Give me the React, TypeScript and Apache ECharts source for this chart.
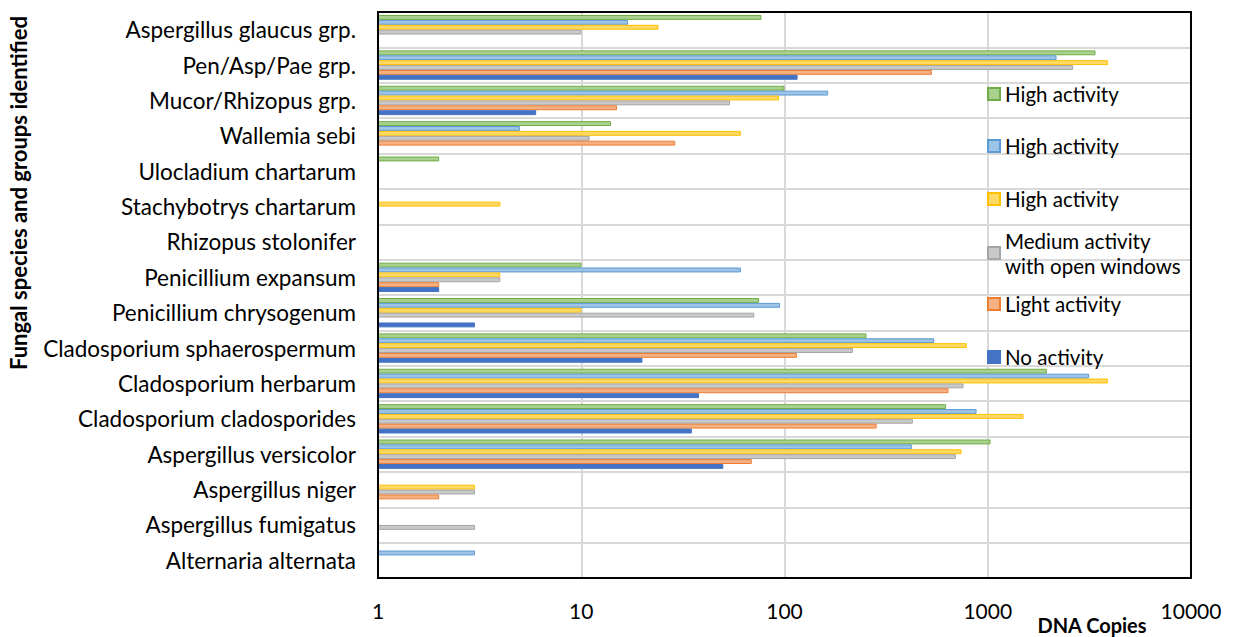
import React, { useEffect, useRef } from "react";
import * as echarts from "echarts";

// Categories listed from bottom to top of the chart
const categories = [
  "Alternaria alternata",
  "Aspergillus fumigatus",
  "Aspergillus niger",
  "Aspergillus versicolor",
  "Cladosporium cladosporides",
  "Cladosporium herbarum",
  "Cladosporium sphaerospermum",
  "Penicillium chrysogenum",
  "Penicillium expansum",
  "Rhizopus stolonifer",
  "Stachybotrys chartarum",
  "Ulocladium chartarum",
  "Wallemia sebi",
  "Mucor/Rhizopus grp.",
  "Pen/Asp/Pae grp.",
  "Aspergillus glaucus grp.",
];

const noActivity = [null, null, null, 50, 35, 38, 20, 3, 2, null, null, null, null, 6, 116, null];
const lightActivity = [null, null, 2, 69, 284, 641, 115, null, 2, null, null, null, 29, 15, 531, null];
const mediumActivity = [null, 3, 3, 697, 428, 760, 217, 71, 4, null, null, null, 11, 54, 2630, 10];
const highActivityYellow = [null, null, 3, 743, 1500, 3900, 789, 10, 4, null, 4, null, 61, 94, 3910, 24];
const highActivityBlue = [3, null, null, 423, 881, 3155, 545, 95, 61, null, null, null, 5, 164, 2180, 17];
const highActivityGreen = [null, null, null, 1032, 624, 1953, 253, 75, 10, null, null, 2, 14, 100, 3390, 77];

const xTicks = [1, 10, 100, 1000, 10000];

const FONT = "Lato";
const GRID = { left: 378, top: 12, width: 813, height: 566 };

export default function App() {
  const ref = useRef<HTMLDivElement>(null);

  useEffect(() => {
    document.body.style.margin = "0";
    if (!ref.current) return;
    const chart = echarts.init(ref.current, null, { renderer: "svg" });

    const mk = (name: string, data: (number | null)[], fill: string, border: string) => ({
      type: "bar",
      name,
      data,
      barGap: "0%",
      barCategoryGap: "17%",
      itemStyle: { color: fill, borderColor: border, borderWidth: 1 },
    });

    const series = [
      mk("High activity (3)", highActivityGreen, "#A9D18E", "#70AD47"),
      mk("High activity (2)", highActivityBlue, "#9DC3E6", "#5B9BD5"),
      mk("High activity (1)", highActivityYellow, "#FFD966", "#FFC000"),
      mk("Medium activity with open windows", mediumActivity, "#C9C9C9", "#A5A5A5"),
      mk("Light activity", lightActivity, "#F4B183", "#ED7D31"),
      mk("No activity", noActivity, "#4472C4", "#4472C4"),
    ];

    const LFS = 20.5;
    const legendItem = (name: string, top: number, extra: any = {}) => ({
      show: true,
      orient: "vertical",
      left: 987,
      top,
      padding: 0,
      itemWidth: 12,
      itemHeight: 12,
      icon: "rect",
      selectedMode: false,
      data: [name],
      formatter: (n: string) => n.replace(/ \(\d\)$/, ""),
      textStyle: { fontFamily: FONT, fontSize: LFS, color: "#000", lineHeight: 24 },
      ...extra,
    });

    const legends = [
      legendItem("High activity (3)", 94 - 12),
      legendItem("High activity (2)", 146 - 12),
      legendItem("High activity (1)", 199 - 12),
      legendItem("Medium activity with open windows", 253 - 6 - 31.5, {
        formatter: () => "Medium activity\nwith open windows",
        textStyle: {
          fontFamily: FONT,
          fontSize: LFS,
          color: "#000",
          lineHeight: 25,
          padding: [25, 0, 0, 0],
        },
      }),
      legendItem("Light activity", 304 - 12),
      legendItem("No activity", 357 - 12),
    ];

    chart.setOption({
      animation: false,
      backgroundColor: "#fff",
      grid: { ...GRID, containLabel: false },
      legend: legends,
      xAxis: {
        type: "log",
        logBase: 10,
        min: xTicks[0],
        max: xTicks[xTicks.length - 1],
        axisLine: { show: false },
        axisTick: { show: false },
        axisLabel: {
          fontFamily: FONT,
          fontSize: 21,
          color: "#000",
          margin: 22,
          formatter: (v: number) => String(Math.round(v)),
        },
        splitLine: { show: true, lineStyle: { color: "#D9D9D9", width: 2 } },
      },
      yAxis: {
        type: "category",
        data: categories,
        axisLine: { show: false },
        axisTick: { show: false },
        axisLabel: { fontFamily: FONT, fontSize: 22.5, color: "#000", margin: 22, interval: 0 },
        splitLine: { show: true, interval: 0, lineStyle: { color: "#D9D9D9", width: 2 } },
      },
      graphic: [
        {
          type: "rect",
          z: 100,
          silent: true,
          shape: { x: GRID.left, y: GRID.top, width: GRID.width, height: GRID.height },
          style: { fill: "none", stroke: "#000", lineWidth: 2 },
        },
        {
          type: "text",
          x: 18,
          y: 193,
          rotation: Math.PI / 2,
          style: {
            text: "Fungal species and groups identified",
            font: `bold 22px ${FONT}`,
            fill: "#000",
            align: "center",
            verticalAlign: "middle",
          },
        },
        {
          type: "text",
          x: 1092,
          y: 625,
          style: {
            text: "DNA Copies",
            font: `bold 20px ${FONT}`,
            fill: "#000",
            align: "center",
            verticalAlign: "middle",
          },
        },
      ],
      series,
    });

    return () => chart.dispose();
  }, []);

  return <div ref={ref} style={{ width: 1234, height: 637 }} />;
}
